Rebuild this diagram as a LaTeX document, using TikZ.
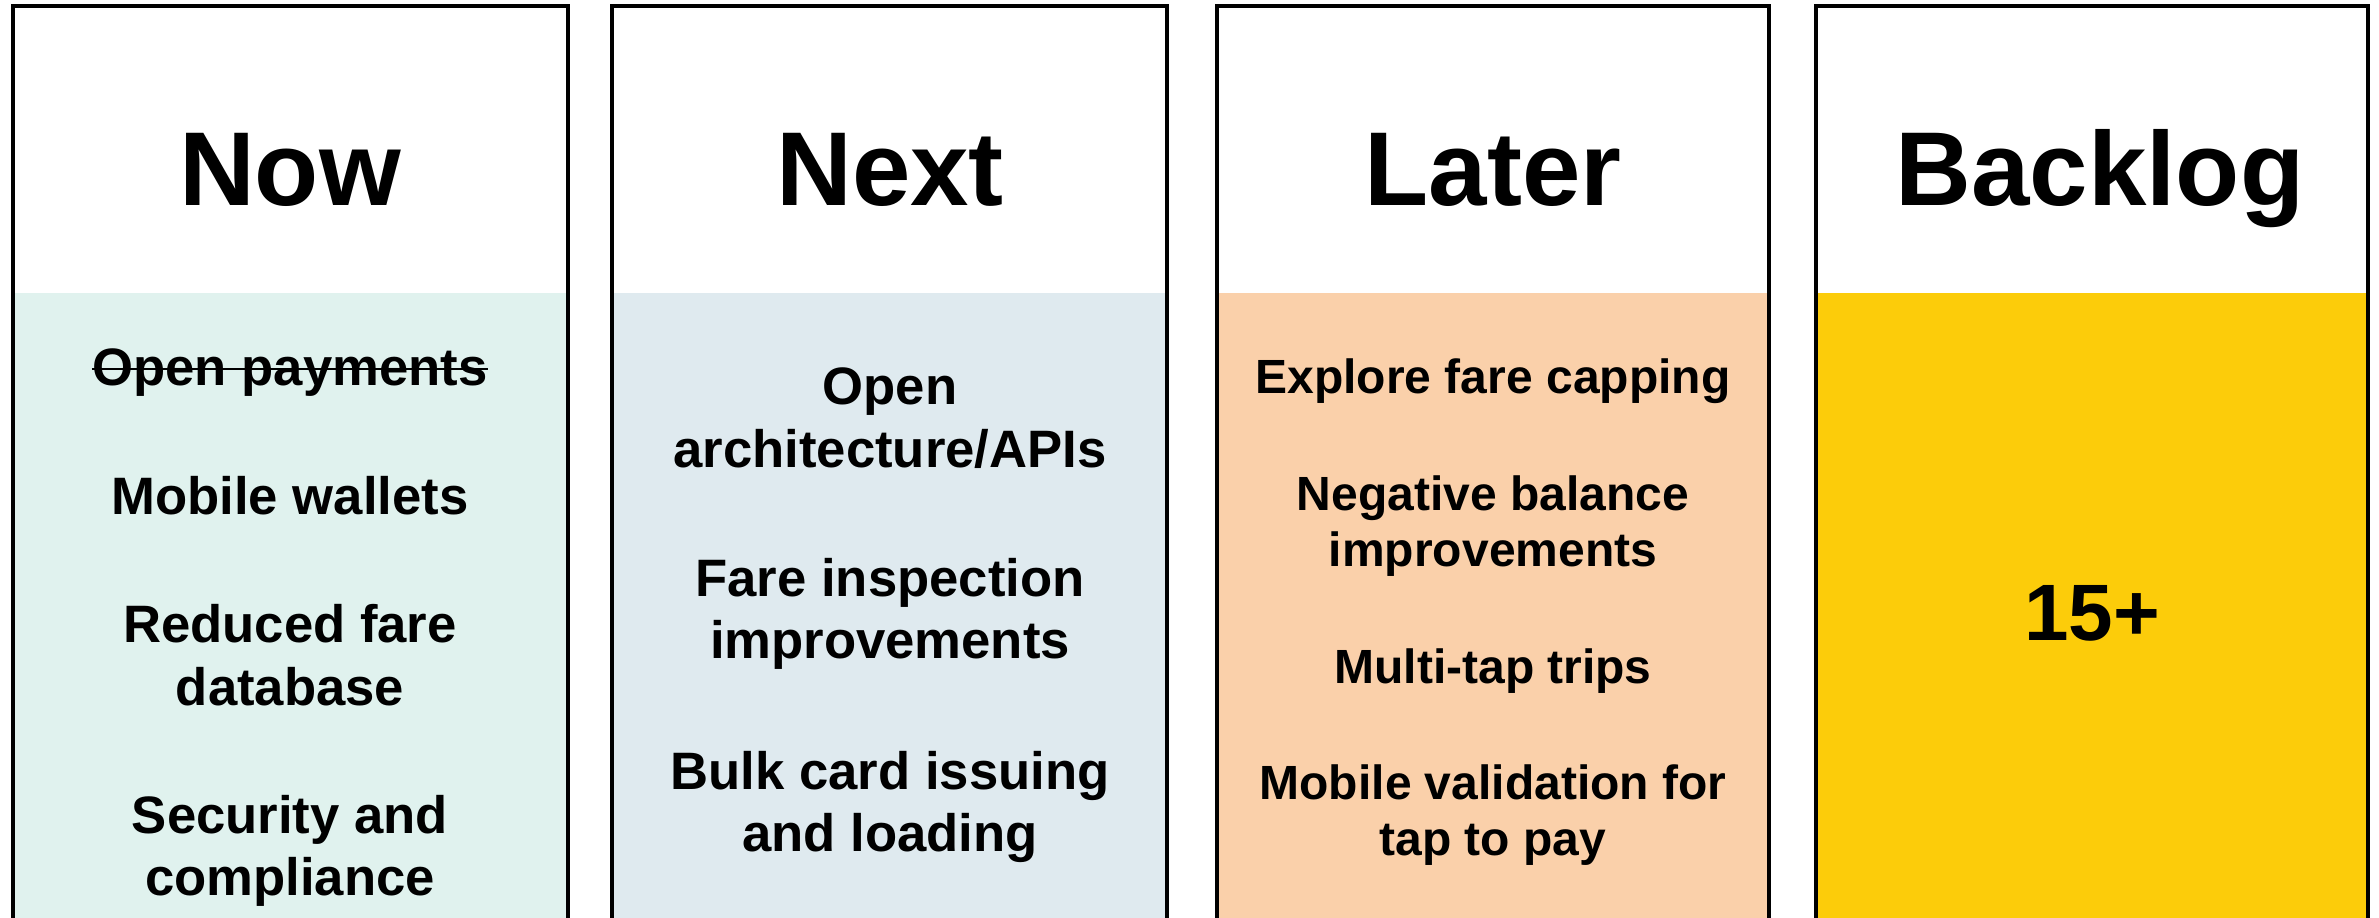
\documentclass[tikz,border=0pt]{standalone}
\usepackage{fontspec}
\setmainfont{Liberation Sans}
\definecolor{nowfill}{RGB}{224,242,238}
\definecolor{nextfill}{RGB}{223,234,239}
\definecolor{laterfill}{RGB}{250,208,170}
\definecolor{backfill}{RGB}{252,204,10}
\begin{document}
\begin{tikzpicture}[x=0.3pt,y=-0.3pt,
    colbox/.style={draw=black,line width=1.35pt},
    head/.style={font=\bfseries\fontsize{31.5}{36}\selectfont,anchor=base},
    item/.style={font=\bfseries\fontsize{15.8}{18.7}\selectfont,align=center},
    lateritem/.style={font=\bfseries\fontsize{14.4}{16.9}\selectfont,align=center},
    count/.style={font=\bfseries\fontsize{24}{28}\selectfont}]
\useasboundingbox (0,0) rectangle (2379,917);
\clip (0,0) rectangle (2379,917);
% column bodies
\fill[nowfill] (13,293) rectangle (568,940);
\fill[nextfill] (612,293) rectangle (1167,940);
\fill[laterfill] (1217,293) rectangle (1769,940);
\fill[backfill] (1816,293) rectangle (2368,940);
% column frames
\draw[colbox] (13,6) rectangle (568,940);
\draw[colbox] (612,6) rectangle (1167,940);
\draw[colbox] (1217,6) rectangle (1769,940);
\draw[colbox] (1816,6) rectangle (2368,940);
% headings
\node[head] (now) at (290,205) {Now};
\node[head] (next) at (890,205) {Next};
\node[head] (later) at (1493,205) {Later};
\node[head] (backlog) at (2100,205) {Backlog};
% now
\node[item,inner xsep=0pt] (openpay) at (290,373) {Open payments};
\draw[line width=0.8pt] ([yshift=1.2pt]openpay.west) -- ([yshift=1.2pt]openpay.east); % struck out
\node[item] (wallets) at (290,496) {Mobile wallets};
\node[item] (reduced) at (290,655) {Reduced fare\\database};
\node[item] (security) at (290,851) {Security and\\compliance};
% next
\node[item] (openarch) at (890,418) {Open\\architecture/APIs};
\node[item] (inspect) at (890,614) {Fare inspection\\improvements};
\node[item] (bulk) at (890,807) {Bulk card issuing\\and loading};
% later
\node[lateritem] (capping) at (1493,381) {Explore fare capping};
\node[lateritem] (negative) at (1493,526) {Negative balance\\improvements};
\node[lateritem] (multitap) at (1493,671) {Multi-tap trips};
\node[lateritem] (validation) at (1493,815) {Mobile validation for\\tap to pay};
% backlog
\node[count] (fifteen) at (2092,613) {15+};
\end{tikzpicture}
\end{document}
